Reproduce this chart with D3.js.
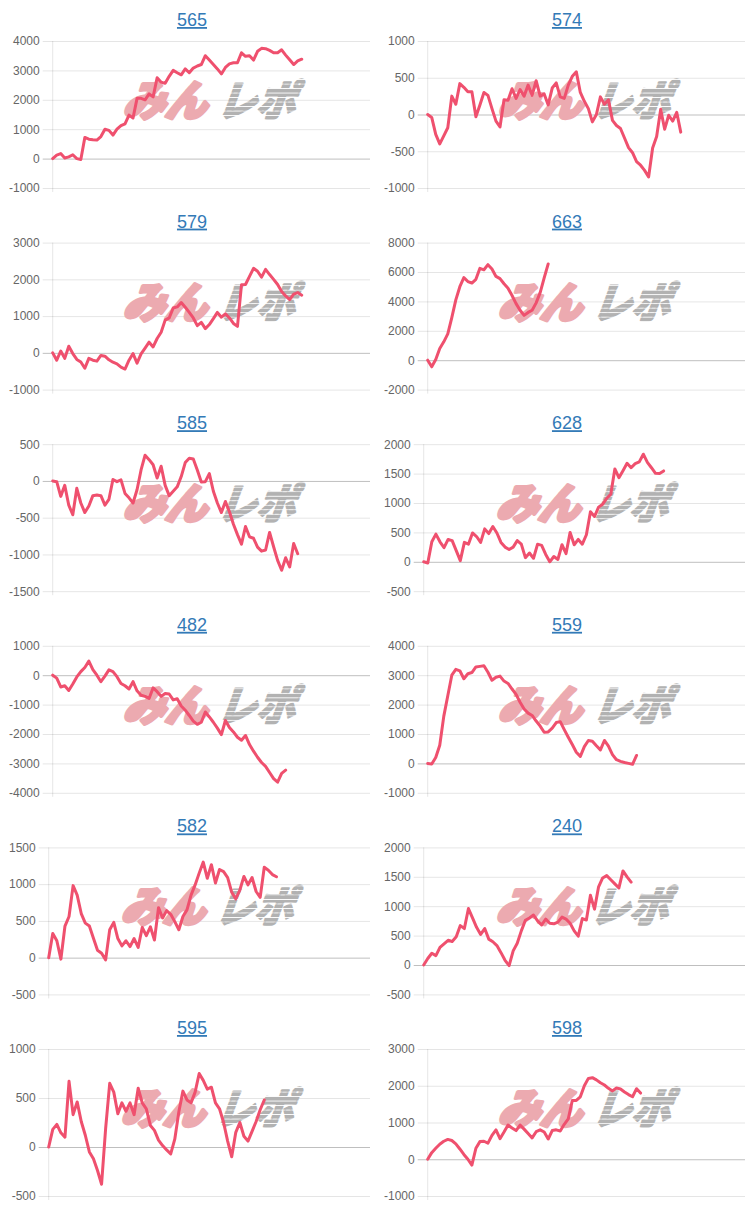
<!DOCTYPE html>
<html><head><meta charset="utf-8">
<script src="https://cdn.jsdelivr.net/npm/d3@7"></script>
<style>body{margin:0;background:#fff;} svg{display:block;}</style>
</head><body><svg id="c" width="750" height="1209"></svg>
<script>
const slotCount = 80;
const titles = ["565","574","579","663","585","628","482","559","582","240","595","598"];
const tickMin  = [-1000,-1000,-1000,-2000,-1500,-500,-4000,-1000,-500,-500,-500,-1000];
const tickMax  = [4000,1000,3000,8000,500,2000,1000,4000,1500,2000,1000,3000];
const tickStep = [1000,500,1000,2000,500,500,1000,1000,500,500,500,1000];

const s565 = [0,120,170,20,60,130,0,-30,720,660,640,630,750,1000,960,800,1000,1120,1180,1480,1380,2050,2050,2000,2200,2100,2750,2600,2560,2800,3000,2920,2850,3050,2920,3080,3150,3200,3500,3350,3200,3050,2880,3100,3220,3260,3260,3600,3480,3500,3350,3650,3750,3740,3680,3600,3600,3700,3520,3360,3200,3320,3380];
const s574 = [0,-40,-270,-400,-290,-180,250,140,420,370,310,310,-30,130,300,260,80,-90,-170,200,195,350,220,340,250,400,260,460,250,280,130,360,430,240,220,400,520,580,300,180,80,-100,0,240,140,200,-80,-150,-190,-320,-450,-520,-640,-690,-760,-850,-455,-300,70,-200,-10,-90,30,-240];
const s579 = [0,-200,50,-150,180,-20,-180,-250,-420,-150,-200,-225,-70,-90,-190,-255,-300,-390,-440,-200,-20,-280,-30,130,290,160,390,560,890,950,1220,1250,1370,1240,1100,950,740,830,660,770,930,1100,970,1060,950,800,720,1850,1860,2080,2300,2220,2060,2270,2130,2000,1860,1670,1550,1450,1600,1640,1570];
const s663 = [0,-450,50,800,1250,1790,2900,4100,5000,5620,5350,5250,5500,6250,6150,6500,6200,5700,5550,5200,4900,4400,3850,3400,3050,3250,3400,3900,4600,5600,6550];
const s585 = [0,-10,-210,-60,-330,-460,-100,-300,-430,-340,-200,-190,-200,-330,-250,20,-10,15,-170,-230,-300,-120,150,350,290,220,40,200,-60,-200,-140,-80,60,250,310,300,150,-15,-10,100,-140,-300,-430,-280,-420,-590,-730,-860,-620,-760,-780,-900,-955,-940,-700,-895,-1080,-1215,-1045,-1170,-850,-990];
const s628 = [0,-20,340,470,340,240,380,360,190,20,330,300,490,430,330,560,480,600,490,330,250,210,250,360,300,70,150,60,300,280,125,0,90,40,290,140,500,290,380,300,460,850,770,930,980,1080,1150,1580,1430,1550,1675,1600,1670,1700,1830,1690,1600,1505,1500,1545];
const s482 = [0,-100,-400,-360,-520,-300,-60,120,260,480,190,0,-220,-30,180,120,-50,-280,-360,-470,-220,-530,-680,-720,-790,-430,-560,-720,-620,-640,-840,-800,-1050,-1190,-1370,-1560,-1670,-1600,-1250,-1420,-1600,-1800,-2020,-1540,-1780,-1930,-2110,-2210,-2050,-2360,-2585,-2790,-2970,-3100,-3310,-3520,-3640,-3340,-3230];
const s559 = [0,-20,200,620,1600,2300,3000,3200,3150,2880,3050,3090,3280,3300,3320,3100,2830,2930,2970,2800,2720,2530,2350,2080,1850,1710,1630,1440,1270,1060,1070,1200,1390,1420,1150,890,640,380,240,570,780,755,600,460,780,585,300,125,70,30,0,-30,270];
const s582 = [0,330,230,-20,430,560,980,850,600,470,430,265,100,60,-30,380,480,260,160,230,150,260,140,410,300,420,240,680,540,640,590,490,380,560,650,850,990,1150,1300,1080,1265,1015,1200,1170,1090,890,800,920,1105,990,1090,900,820,1230,1190,1130,1100];
const s240 = [0,110,200,160,300,360,420,400,480,670,620,960,800,640,520,620,440,395,330,210,80,-10,240,370,580,760,800,850,750,680,780,710,700,730,815,780,710,580,490,790,765,1185,950,1330,1480,1520,1450,1380,1310,1600,1500,1410];
const s595 = [0,180,230,145,100,670,330,460,260,120,-50,-120,-240,-380,190,650,560,340,450,365,450,330,600,450,390,220,170,70,15,-30,-70,80,360,570,480,450,560,750,680,590,610,450,390,250,60,-100,150,250,110,60,160,260,380,480];
const s598 = [0,180,300,410,490,540,510,420,280,130,0,-160,300,480,490,440,650,800,560,740,930,850,780,930,820,700,580,750,800,740,550,780,800,770,950,1100,1600,1600,1700,2000,2200,2220,2160,2080,2020,1930,1860,1940,1910,1830,1760,1700,1920,1800];
const seriesList = [s565,s574,s579,s663,s585,s628,s482,s559,s582,s240,s595,s598];

const svg = d3.select('#c');
const defs = svg.append('defs');
const pat = defs.append('pattern').attr('id','stripes')
  .attr('patternUnits','userSpaceOnUse').attr('width',8).attr('height',4.5);
pat.append('rect').attr('width',8).attr('height',3.6).attr('fill','#b2b2b2');

const FONT = "'Liberation Sans', Arial, Helvetica, sans-serif";
const measure = svg.append('text').attr('font-family',FONT).attr('font-size',12).attr('visibility','hidden');
function textW(s){ measure.text(s); return measure.node().getComputedTextLength(); }

titles.forEach((t,i)=>{
  const col = i % 2, row = Math.floor(i/2);
  const colLeft = col ? 384 : 9;
  const right = col ? 745 : 370;
  const top = 41 + row*201.6, bottom = top + 147;
  const ticks = d3.range(tickMin[i], tickMax[i] + tickStep[i]/2, tickStep[i]);
  const maxW = d3.max(ticks, v => textW(String(v)));
  const axisX = colLeft + maxW + 13;
  const x = d3.scaleLinear().domain([0, slotCount-1]).range([axisX, right]);
  const y = d3.scaleLinear().domain([tickMin[i], tickMax[i]]).range([bottom, top]);
  const g = svg.append('g');

  g.append('text').attr('x', col ? 567 : 192).attr('y', top - 15)
    .attr('text-anchor','middle').attr('font-family',FONT).attr('font-size',18)
    .attr('fill','#337ab7').attr('text-decoration','underline').text(t);

  const ax = g.append('g').attr('transform',`translate(${axisX-10},0)`)
    .call(d3.axisLeft(y).tickValues(ticks).tickFormat(d=>String(d))
      .tickSizeInner(-(right-axisX+10)).tickSizeOuter(0).tickPadding(3));
  ax.select('.domain').remove();
  ax.selectAll('.tick line').attr('stroke', d => d===0 ? 'rgba(0,0,0,0.25)' : 'rgba(0,0,0,0.1)');
  ax.selectAll('.tick text').attr('font-family',FONT).attr('font-size',12).attr('fill','#666');
  g.append('line').attr('x1',axisX).attr('x2',axisX).attr('y1',top).attr('y2',bottom+4)
    .attr('stroke','rgba(0,0,0,0.1)');

  const cx = (axisX + right)/2 - 3, base = top + 75;
  const wm = g.append('g').attr('font-family',"'Noto Sans CJK JP', sans-serif")
    .attr('font-weight',900).attr('font-size',42).attr('stroke-linejoin','round');
  wm.append('text').attr('transform',`translate(${cx-86},${base}) skewX(-20)`)
    .attr('textLength',84).attr('lengthAdjust','spacingAndGlyphs')
    .attr('fill','#ecaab0').attr('stroke','#ecaab0').attr('stroke-width',3.5).text('みん');
  wm.append('text').attr('transform',`translate(${cx+8},${base}) skewX(-20)`)
    .attr('textLength',78).attr('lengthAdjust','spacingAndGlyphs')
    .attr('fill','url(#stripes)').attr('stroke','url(#stripes)').attr('stroke-width',2.2).text('レポ');

  const line = d3.line().x((d,j)=>x(j)).y(d=>y(d));
  g.append('path').datum(seriesList[i]).attr('d',line)
    .attr('fill','none').attr('stroke','#ef506e').attr('stroke-width',3)
    .attr('stroke-linejoin','round').attr('stroke-linecap','round');
});
</script></body></html>
